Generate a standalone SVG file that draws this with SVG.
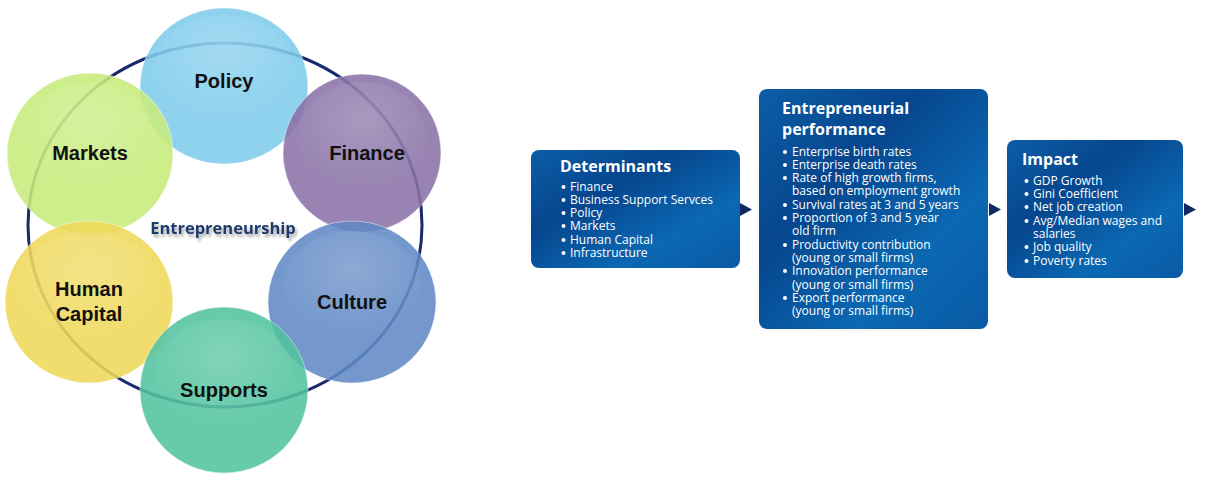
<svg xmlns="http://www.w3.org/2000/svg" width="1221" height="485" viewBox="0 0 1221 485">
<defs>
<linearGradient id="boxg" x1="0" y1="0" x2="1" y2="1">
<stop offset="0" stop-color="#0c5da6"/>
<stop offset="0.35" stop-color="#06468e"/>
<stop offset="0.7" stop-color="#0b68b2"/>
<stop offset="1" stop-color="#0a5aa4"/>
</linearGradient>
<radialGradient id="shine" cx="0.5" cy="0.35" r="0.65">
<stop offset="0" stop-color="#ffffff" stop-opacity="0.18"/>
<stop offset="0.7" stop-color="#ffffff" stop-opacity="0.04"/>
<stop offset="1" stop-color="#ffffff" stop-opacity="0"/>
</radialGradient>
<filter id="ts" x="-10%" y="-30%" width="130%" height="180%">
<feGaussianBlur in="SourceAlpha" stdDeviation="1.5"/>
<feOffset dx="2" dy="3" result="b"/>
<feComponentTransfer><feFuncA type="linear" slope="0.35"/></feComponentTransfer>
<feMerge><feMergeNode/><feMergeNode in="SourceGraphic"/></feMerge>
</filter>
</defs>
<style>
.c{stroke:#ffffff;stroke-opacity:0.5;stroke-width:1;opacity:0.88}
.lbl{font-family:"Liberation Sans",Arial,sans-serif;font-weight:bold;font-size:20px;fill:#111111;text-anchor:middle}
.box{fill:url(#boxg)}
.t{font-family:"Open Sans","DejaVu Sans",sans-serif;font-weight:bold;font-size:16px;fill:#ffffff}
.b{font-family:"Open Sans","DejaVu Sans",sans-serif;font-size:12px;fill:#ffffff}
.d{fill:#ffffff}
.arr{fill:#0f2a63}
</style>
<rect width="1221" height="485" fill="#ffffff"/>

<g id="ring">
<ellipse cx="225" cy="225" rx="197" ry="182" fill="none" stroke="#1b2a6b" stroke-width="3"/>
</g>
<g id="policy">
<ellipse class="c" cx="224" cy="86" rx="84" ry="78" fill="#80ccec"/>
<ellipse cx="224" cy="70" rx="70" ry="55" fill="url(#shine)"/>
<text class="lbl" x="224" y="88">Policy</text>
</g>
<g id="finance">
<ellipse class="c" cx="362" cy="153" rx="79" ry="79" fill="#8a73a8"/>
<ellipse cx="362" cy="137" rx="65" ry="55" fill="url(#shine)"/>
<text class="lbl" x="367" y="160">Finance</text>
</g>
<g id="markets">
<ellipse class="c" cx="90" cy="154" rx="83" ry="81" fill="#c8ec7c"/>
<ellipse cx="90" cy="138" rx="70" ry="55" fill="url(#shine)"/>
<text class="lbl" x="90" y="160">Markets</text>
</g>
<g id="human-capital">
<ellipse class="c" cx="89" cy="302" rx="84" ry="81" fill="#f0d95a"/>
<ellipse cx="89" cy="286" rx="70" ry="55" fill="url(#shine)"/>
<text class="lbl" x="89" y="296">Human</text>
<text class="lbl" x="89" y="321">Capital</text>
</g>
<g id="culture">
<ellipse class="c" cx="352" cy="302" rx="84" ry="81" fill="#6189c6"/>
<ellipse cx="352" cy="286" rx="70" ry="55" fill="url(#shine)"/>
<text class="lbl" x="352" y="309">Culture</text>
</g>
<g id="supports">
<ellipse class="c" cx="224" cy="390" rx="84" ry="83" fill="#53c3a0"/>
<ellipse cx="224" cy="374" rx="70" ry="55" fill="url(#shine)"/>
<text class="lbl" x="224" y="397">Supports</text>
</g>
<g id="center-label">
<text x="223" y="234" font-family="'Open Sans','DejaVu Sans',sans-serif" font-weight="bold" font-size="16.5px" fill="#1f3a6b" text-anchor="middle" filter="url(#ts)">Entrepreneurship</text>
</g>

<g id="connectors">
<polygon class="arr" points="740,203 752,209.5 740,216"/>
<polygon class="arr" points="989,203 1001,209.5 989,216"/>
<polygon class="arr" points="1184,203 1196,209.5 1184,216"/>
</g>

<g id="determinants">
<rect class="box" x="531" y="150" width="209" height="118" rx="8"/>
<text class="t" x="560" y="172">Determinants</text>
<g class="d">
<circle cx="563.5" cy="187" r="2"/><circle cx="563.5" cy="200" r="2"/><circle cx="563.5" cy="213" r="2"/>
<circle cx="563.5" cy="226" r="2"/><circle cx="563.5" cy="240" r="2"/><circle cx="563.5" cy="253" r="2"/>
</g>
<g class="b">
<text x="570" y="191">Finance</text>
<text x="570" y="204">Business Support Servces</text>
<text x="570" y="217">Policy</text>
<text x="570" y="230">Markets</text>
<text x="570" y="244">Human Capital</text>
<text x="570" y="257">Infrastructure</text>
</g>
</g>

<g id="entrepreneurial-performance">
<rect class="box" x="759" y="89" width="229" height="240" rx="8"/>
<text class="t" x="782" y="114">Entrepreneurial</text>
<text class="t" x="782" y="135">performance</text>
<g class="d">
<circle cx="785" cy="152" r="2"/><circle cx="785" cy="165" r="2"/><circle cx="785" cy="178" r="2"/>
<circle cx="785" cy="205" r="2"/><circle cx="785" cy="218" r="2"/><circle cx="785" cy="245" r="2"/>
<circle cx="785" cy="271" r="2"/><circle cx="785" cy="298" r="2"/>
</g>
<g class="b">
<text x="792" y="156">Enterprise birth rates</text>
<text x="792" y="169">Enterprise death rates</text>
<text x="792" y="182">Rate of high growth firms,</text>
<text x="792" y="195">based on employment growth</text>
<text x="792" y="209">Survival rates at 3 and 5 years</text>
<text x="792" y="222">Proportion of 3 and 5 year</text>
<text x="792" y="235">old firm</text>
<text x="792" y="249">Productivity contribution</text>
<text x="792" y="262">(young or small firms)</text>
<text x="792" y="275">Innovation performance</text>
<text x="792" y="289">(young or small firms)</text>
<text x="792" y="302">Export performance</text>
<text x="792" y="315">(young or small firms)</text>
</g>
</g>

<g id="impact">
<rect class="box" x="1007" y="140" width="176" height="138" rx="8"/>
<text class="t" x="1022" y="165">Impact</text>
<g class="d">
<circle cx="1026.5" cy="181" r="2"/><circle cx="1026.5" cy="194" r="2"/><circle cx="1026.5" cy="207" r="2"/>
<circle cx="1026.5" cy="221" r="2"/><circle cx="1026.5" cy="247" r="2"/><circle cx="1026.5" cy="261" r="2"/>
</g>
<g class="b">
<text x="1033" y="185">GDP Growth</text>
<text x="1033" y="198">Gini Coefficient</text>
<text x="1033" y="211">Net job creation</text>
<text x="1033" y="225">Avg/Median wages and</text>
<text x="1033" y="238">salaries</text>
<text x="1033" y="251">Job quality</text>
<text x="1033" y="265">Poverty rates</text>
</g>
</g>
</svg>
